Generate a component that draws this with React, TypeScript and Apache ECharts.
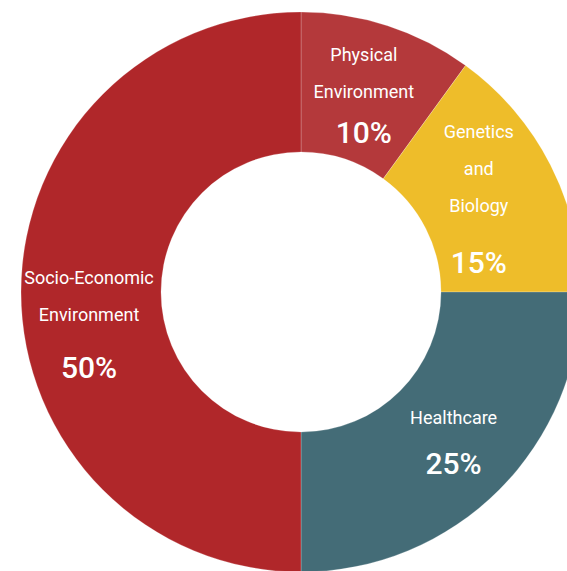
import React, { useEffect, useRef } from "react";
import * as echarts from "echarts";

const categories = ["Physical\nEnvironment", "Genetics\nand\nBiology", "Healthcare", "Socio-Economic\nEnvironment"];
const values = [10, 15, 25, 50];
const colors = ["#B4393B", "#EEBD2A", "#446C77", "#B0272A"];

// label placement tweaks (layout only)
const labelLayout = [
  { dx: -3, dy: 6, gap: 44 },
  { dx: -12, dy: 12, gap: 78 },
  { dx: 2, dy: 2, gap: 54 },
  { dx: 1, dy: 38, gap: 68 },
];

const FONT = "Roboto, sans-serif";

export default function App() {
  const ref = useRef<HTMLDivElement>(null);
  useEffect(() => {
    document.body.style.margin = "0";
    if (!ref.current) return;
    const chart = echarts.init(ref.current, null, { renderer: "svg" });
    const data = categories.map((name, i) => ({
      name,
      value: values[i],
      itemStyle: { color: colors[i] },
      label: {
        offset: [labelLayout[i].dx, labelLayout[i].dy],
        rich: {
          n: { fontSize: 18, fontWeight: 400, lineHeight: 37, color: "#fff", fontFamily: FONT },
          p: { fontSize: 30, fontWeight: 500, lineHeight: labelLayout[i].gap, color: "#fff", fontFamily: FONT },
        },
      },
    }));
    chart.setOption({
      animation: false,
      series: [
        {
          type: "pie",
          center: [301, 292],
          radius: [140, 280],
          startAngle: 90,
          clockwise: true,
          avoidLabelOverlap: false,
          emphasis: { disabled: true },
          itemStyle: { borderColor: "rgba(255,255,255,0.22)", borderWidth: 1 },
          labelLine: { show: false },
          label: {
            show: true,
            position: "inside",
            align: "center",
            verticalAlign: "middle",
            formatter: (p: any) =>
              p.name
                .split("\n")
                .map((s: string) => `{n|${s}}`)
                .join("\n") + `\n{p|${p.value}%}`,
          },
          data,
        },
      ],
    });
    return () => chart.dispose();
  }, []);
  return <div ref={ref} style={{ width: 567, height: 571 }} />;
}
